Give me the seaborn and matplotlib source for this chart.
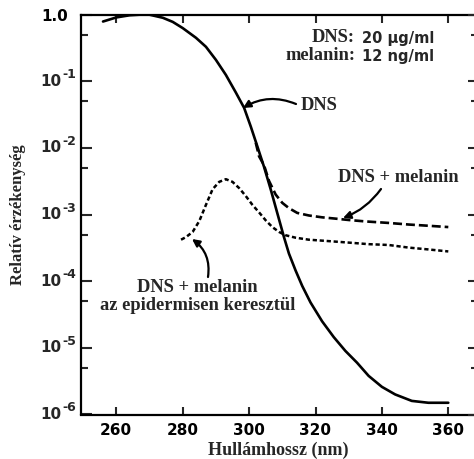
import numpy as np
import pandas as pd
import matplotlib
matplotlib.use("Agg")
import matplotlib.pyplot as plt
import matplotlib.ticker as mticker
import seaborn as sns

# ---- data ----
dns_nm = [256, 260, 264, 267, 270, 274, 277, 280, 284, 287, 290, 293, 296, 298.5,
          300.5, 302.5, 304.5, 306.5, 308.5, 310.5, 312, 314, 316, 318.5, 322, 325.5,
          329, 332.5, 336, 340, 344, 349, 354, 360]
dns_val = [0.79, 0.91, 0.98, 1.0, 1.0, 0.9, 0.78, 0.63, 0.45, 0.33, 0.21, 0.125, 0.068, 0.04,
           0.021, 0.0105, 0.0052, 0.0024, 0.00105, 0.00046, 0.00026, 0.000145, 0.000085,
           0.000048, 0.000025, 0.0000145, 0.0000090, 0.0000060, 0.0000038, 0.0000026,
           0.0000020, 0.0000016, 0.0000015, 0.0000015]

mel_nm = [302, 303, 304.5, 306, 308, 310, 312, 314.5, 318, 322, 326, 330, 335, 342, 348, 354, 360]
mel_val = [0.012, 0.0075, 0.0055, 0.0032, 0.0020, 0.0015, 0.00125, 0.00106, 0.00097, 0.00091,
           0.00087, 0.00083, 0.00079, 0.00075, 0.00071, 0.00068, 0.00065]

epi_nm = [279.5, 281, 283, 285, 287, 289, 291, 293, 295, 297, 299, 301, 303, 305, 307, 309,
          311, 314, 318, 324, 330, 336, 342, 348, 354, 360]
epi_val = [0.00042, 0.00046, 0.00055, 0.0008, 0.0014, 0.0024, 0.0031, 0.0034, 0.0031, 0.0025,
           0.0019, 0.0014, 0.00108, 0.00082, 0.00065, 0.00055, 0.00049, 0.00045, 0.00042,
           0.0004, 0.00038, 0.00036, 0.00035, 0.00032, 0.0003, 0.00028]

x_ticks = [260, 280, 300, 320, 340, 360]
y_ticks = [1e-6, 1e-5, 1e-4, 1e-3, 1e-2, 1e-1, 1.0]
y_exps = ["-6", "-5", "-4", "-3", "-2", "-1"]

sns.set_style("ticks")
plt.rcParams["font.family"] = ["DejaVu Sans"]

W, H = 474, 459
fig = plt.figure(figsize=(W / 100, H / 100), dpi=100)
L, R, T, B = 80.5, 475.5, 14.7, 414.5
ax = fig.add_axes([L / W, 1 - B / H, (R - L) / W, (B - T) / H])

df_dns = pd.DataFrame({"nm": dns_nm, "v": dns_val})
df_mel = pd.DataFrame({"nm": mel_nm, "v": mel_val})
df_epi = pd.DataFrame({"nm": epi_nm, "v": epi_val})

sns.lineplot(data=df_dns, x="nm", y="v", ax=ax, color="black", lw=1.9, estimator=None, sort=False)
sns.lineplot(data=df_mel, x="nm", y="v", ax=ax, color="black", lw=1.9, estimator=None, sort=False)
ax.lines[-1].set_dashes((3.4, 1.5))
sns.lineplot(data=df_epi, x="nm", y="v", ax=ax, color="black", lw=1.8, estimator=None, sort=False)
ax.lines[-1].set_dashes((1.7, 1.1))

ax.set_yscale("log")
ax.set_ylim(1e-6, 1.0)
ax.set_xlim(260 - (116.3 - L) / 3.32, 260 + (R - 116.3) / 3.32)

ax.set_xticks(x_ticks)
ax.set_xticklabels([str(t) for t in x_ticks])
ax.set_yticks(y_ticks)
ax.set_yticklabels([""] * 6 + ["1.0"])
ax.yaxis.set_minor_locator(mticker.LogLocator(base=10, subs=[5.0], numticks=20))
ax.yaxis.set_minor_formatter(mticker.NullFormatter())
ax.xaxis.set_minor_locator(mticker.NullLocator())

for lab in ax.get_xticklabels() + ax.get_yticklabels():
    lab.set_fontweight("bold")
    lab.set_fontsize(11)
    lab.set_color("black")

# power-of-ten labels: "10" with a raised exponent (hyphen as in the original)
ytr = ax.get_yaxis_transform()
for v, e in zip(y_ticks[:-1], y_exps):
    ax.text(-0.047, v, "10", transform=ytr, ha="right", va="center", fontsize=11,
            fontweight="bold")
    ax.text(-0.047, v, e, transform=ytr, ha="left", va="bottom", fontsize=9,
            fontweight="bold")

ax.tick_params(axis="x", which="major", direction="in", length=6, width=1.5,
               top=True, bottom=True, pad=6)
ax.tick_params(axis="y", which="major", direction="in", length=8, width=1.5, pad=9, left=True, right=False)
ax.tick_params(axis="y", which="minor", direction="in", length=5, width=1.5, left=True, right=False)

for s in ["left", "bottom", "top"]:
    ax.spines[s].set_linewidth(1.6)
    ax.spines[s].set_color("black")
ax.spines["right"].set_visible(False)

ax2 = ax.twinx()
ax2.set_yscale("log")
ax2.set_ylim(ax.get_ylim())
ax2.set_yticks(y_ticks)
ax2.yaxis.set_minor_locator(mticker.LogLocator(base=10, subs=[5.0], numticks=20))
ax2.yaxis.set_major_formatter(mticker.NullFormatter())
ax2.yaxis.set_minor_formatter(mticker.NullFormatter())
ax2.tick_params(axis="y", which="major", direction="in", length=5, width=1.5)
ax2.tick_params(axis="y", which="minor", direction="in", length=3, width=1.5)
for s in ax2.spines.values():
    s.set_visible(False)

serif = ["Liberation Serif", "DejaVu Serif"]
ax.set_xlabel("Hullámhossz (nm)", family=serif, fontweight="bold", fontsize=13, labelpad=3)
ax.set_ylabel("Relatív érzékenység", family=serif, fontweight="bold", fontsize=12, labelpad=11)


def P(x, y):
    return (x / W, 1 - y / H)


fs = 13.3
fig.text(*P(355, 38), "DNS:", family=serif, fontweight="bold", fontsize=fs, ha="right", va="center")
fig.text(*P(362, 39), "20 μg/ml", fontweight="bold", fontsize=10.5, ha="left", va="center")
fig.text(*P(355, 55), "melanin:", family=serif, fontweight="bold", fontsize=fs, ha="right", va="center")
fig.text(*P(362, 56), "12 ng/ml", fontweight="bold", fontsize=10.5, ha="left", va="center")

arrow = dict(arrowstyle="-|>", color="black", lw=1.6, mutation_scale=11, shrinkA=0, shrinkB=0)

fig.text(*P(301, 106), "DNS", family=serif, fontweight="bold", fontsize=fs, ha="left", va="center")
ax.annotate("", xy=P(243, 108), xycoords="figure fraction", xytext=P(296, 104),
            textcoords="figure fraction",
            arrowprops=dict(arrow, connectionstyle="arc3,rad=0.25"))

fig.text(*P(398, 178), "DNS + melanin", family=serif, fontweight="bold", fontsize=fs, ha="center", va="center")
ax.annotate("", xy=P(343, 218), xycoords="figure fraction", xytext=P(381, 189),
            textcoords="figure fraction",
            arrowprops=dict(arrow, connectionstyle="arc3,rad=-0.15"))

fig.text(*P(197, 287), "DNS + melanin", family=serif, fontweight="bold", fontsize=fs, ha="center", va="center")
fig.text(*P(198, 305), "az epidermisen keresztül", family=serif, fontweight="bold", fontsize=fs,
         ha="center", va="center")
ax.annotate("", xy=P(192, 239), xycoords="figure fraction", xytext=P(208, 277),
            textcoords="figure fraction",
            arrowprops=dict(arrow, connectionstyle="arc3,rad=0.3"))

fig.savefig("out.png", dpi=100)
